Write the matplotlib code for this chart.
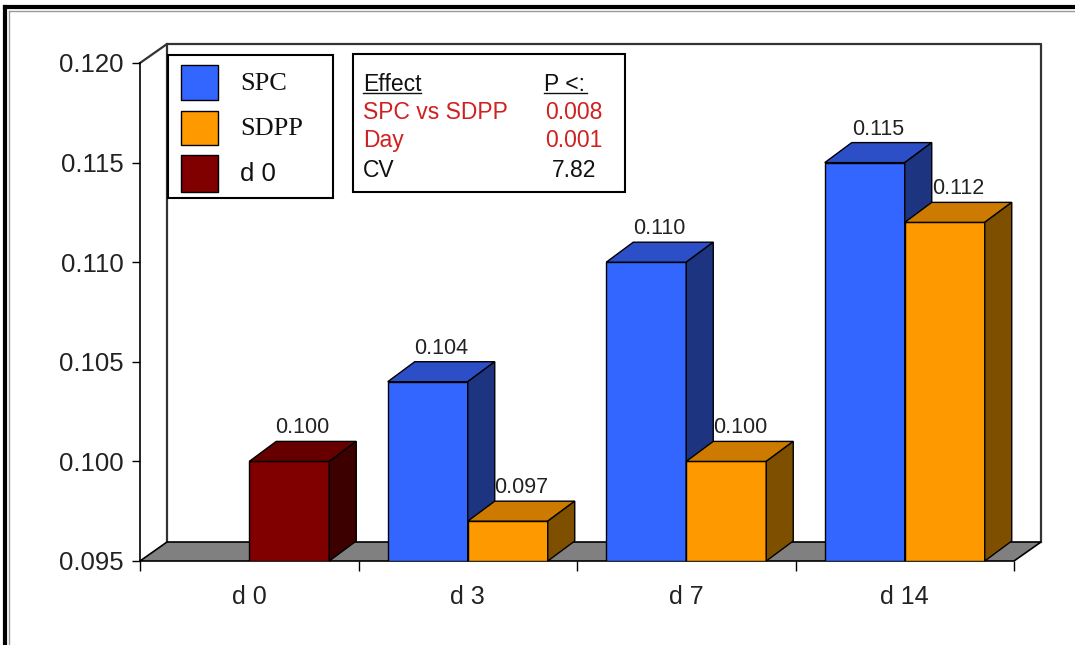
import numpy as np
import matplotlib.pyplot as plt
from matplotlib.patches import Polygon, Rectangle
from matplotlib.lines import Line2D

plt.rcParams['font.family'] = ['Liberation Sans', 'DejaVu Sans']

# data
days = ['d 0', 'd 3', 'd 7', 'd 14']
spc = [np.nan, 0.104, 0.110, 0.115]
sdpp = [np.nan, 0.097, 0.100, 0.112]
day0 = [0.100, np.nan, np.nan, np.nan]
effects = ['SPC vs SDPP', 'Day', 'CV']
p_vals = ['0.008', '0.001', '7.82']
yticks = [0.095, 0.100, 0.105, 0.110, 0.115, 0.120]
ymin, ymax = 0.095, 0.120

W, H = 1075, 645
fig = plt.figure(figsize=(W / 100, H / 100), dpi=100)

def fx(x):
    return x / W

def fy(y):
    return 1 - y / H

# front plane of the 3-D box, in pixels
L, R, B, T = 140, 1014, 561, 63
ax = fig.add_axes([fx(L), fy(B), (R - L) / W, (B - T) / H])
ax.set_xlim(-0.5, 3.5)
ax.set_ylim(ymin, ymax)

xpix = (R - L) / 4.0
ypix = (B - T) / (ymax - ymin)
wall_dx, wall_dy = 27 / xpix, 19 / ypix
bar_dx, bar_dy = 27 / xpix, 20 / ypix
width = 80 / xpix

# floor
x0, x1 = -0.5, 3.5
ax.add_patch(Polygon([(x0, ymin), (x1, ymin), (x1 + wall_dx, ymin + wall_dy),
                      (x0 + wall_dx, ymin + wall_dy)],
                     fc='#808080', ec='black', lw=1.2, zorder=2, clip_on=False))
# walls
wall = dict(color='#333333', lw=1.6, zorder=1, clip_on=False)
ax.add_line(Line2D([x0, x0 + wall_dx, x1 + wall_dx, x1 + wall_dx],
                   [ymax, ymax + wall_dy, ymax + wall_dy, ymin + wall_dy], **wall))
ax.add_line(Line2D([x0 + wall_dx, x0 + wall_dx],
                   [ymin + wall_dy, ymax + wall_dy], **wall))


def bar3d(x, val, front, top, side, z):
    ax.bar(x, val - ymin, width, bottom=ymin, align='edge', color=front,
           edgecolor='black', lw=1, zorder=z)
    ax.add_patch(Polygon([(x, val), (x + bar_dx, val + bar_dy),
                          (x + width + bar_dx, val + bar_dy), (x + width, val)],
                         fc=top, ec='black', lw=1, zorder=z, clip_on=False))
    ax.add_patch(Polygon([(x + width, ymin), (x + width + bar_dx, ymin + bar_dy),
                          (x + width + bar_dx, val + bar_dy), (x + width, val)],
                         fc=side, ec='black', lw=1, zorder=z, clip_on=False))
    ax.text(x + width / 2 + bar_dx / 2, val + bar_dy * 1.15, f'{val:.3f}',
            ha='center', va='bottom', fontsize=15.5, color='#222222',
            zorder=20, clip_on=False)


z = 3
for i in range(len(days)):
    if not np.isnan(day0[i]):
        bar3d(i, day0[i], '#800000', '#660000', '#3d0000', z)
    if not np.isnan(spc[i]):
        bar3d(i - width, spc[i], '#3366ff', '#2c4fc8', '#1d3580', z)
        z += 1
    if not np.isnan(sdpp[i]):
        bar3d(i, sdpp[i], '#ff9900', '#cc7a00', '#7f4f00', z)
    z += 1

# axes
for s in ['top', 'right', 'bottom']:
    ax.spines[s].set_visible(False)
ax.spines['left'].set_linewidth(1.2)
ax.set_yticks(yticks)
ax.set_yticklabels([f'{v:.3f}' for v in yticks])
ax.tick_params(axis='y', direction='out', length=6, width=1, pad=6,
               labelsize=18.5, labelcolor='#222222')
ax.set_xticks(np.arange(-0.5, 4, 1.0))
ax.set_xticklabels([])
ax.tick_params(axis='x', which='major', direction='out', length=7, width=1)
ax.set_xticks(range(len(days)), minor=True)
ax.set_xticklabels(days, minor=True)
ax.tick_params(axis='x', which='minor', length=0, pad=17, labelsize=18,
               labelcolor='#222222')
ax.patch.set_alpha(0)

# legend box
fig.add_artist(Rectangle((fx(168), fy(198)), (333 - 168) / W, (198 - 55) / H,
                         transform=fig.transFigure, fc='white', ec='black', lw=1.5,
                         zorder=5))
leg = [('SPC', '#3366ff', 65, 100, 'Liberation Serif', 19),
       ('SDPP', '#ff9900', 111, 145, 'Liberation Serif', 19),
       ('d 0', '#800000', 155, 192, 'Liberation Sans', 18.5)]
for name, col, top, bot, fam, fs in leg:
    fig.add_artist(Rectangle((fx(181), fy(bot)), 37 / W, (bot - top) / H,
                             transform=fig.transFigure, fc=col, ec='black',
                             lw=1, zorder=6))
    fig.text(fx(240), fy((top + bot) / 2 + 1), name, family=fam, fontsize=fs,
             va='center', ha='left', color='#111111', zorder=7)

# statistics box
fs_stat = 16.5
fig.add_artist(Rectangle((fx(353), fy(192)), (625 - 353) / W, (192 - 54) / H,
                         transform=fig.transFigure, fc='white', ec='black', lw=1.5,
                         zorder=5))
fig.text(fx(363), fy(91), 'Effect', fontsize=fs_stat, va='baseline',
         color='#111111', zorder=7)
fig.text(fx(544), fy(91), 'P <:', fontsize=fs_stat, va='baseline',
         color='#111111', zorder=7)
for xa, xb in [(363, 421), (544, 587)]:
    fig.add_artist(Line2D([fx(xa), fx(xb)], [fy(93), fy(93)],
                          transform=fig.transFigure, color='#111111', lw=1,
                          zorder=7))
row_y = [119, 147, 177]
row_col = ['#d02020', '#d02020', '#111111']
for name, p, yy, c in zip(effects, p_vals, row_y, row_col):
    fig.text(fx(363), fy(yy), name, fontsize=fs_stat, va='baseline', color=c,
             zorder=7)
    fig.text(fx(574), fy(yy), p, fontsize=fs_stat, va='baseline', ha='center',
             color=c, zorder=7)

# outer frame
frame = dict(transform=fig.transFigure, zorder=8)
fig.add_artist(Line2D([fx(5), fx(W + 5)], [fy(7), fy(7)], color='black', lw=3, **frame))
fig.add_artist(Line2D([fx(5), fx(5)], [fy(7), fy(H + 5)], color='black', lw=3, **frame))
fig.add_artist(Line2D([fx(9), fx(W + 5)], [fy(10.5), fy(10.5)], color='#999999', lw=1, **frame))
fig.add_artist(Line2D([fx(9), fx(9)], [fy(10.5), fy(H + 5)], color='#999999', lw=1, **frame))

fig.savefig('out.png', dpi=100)
